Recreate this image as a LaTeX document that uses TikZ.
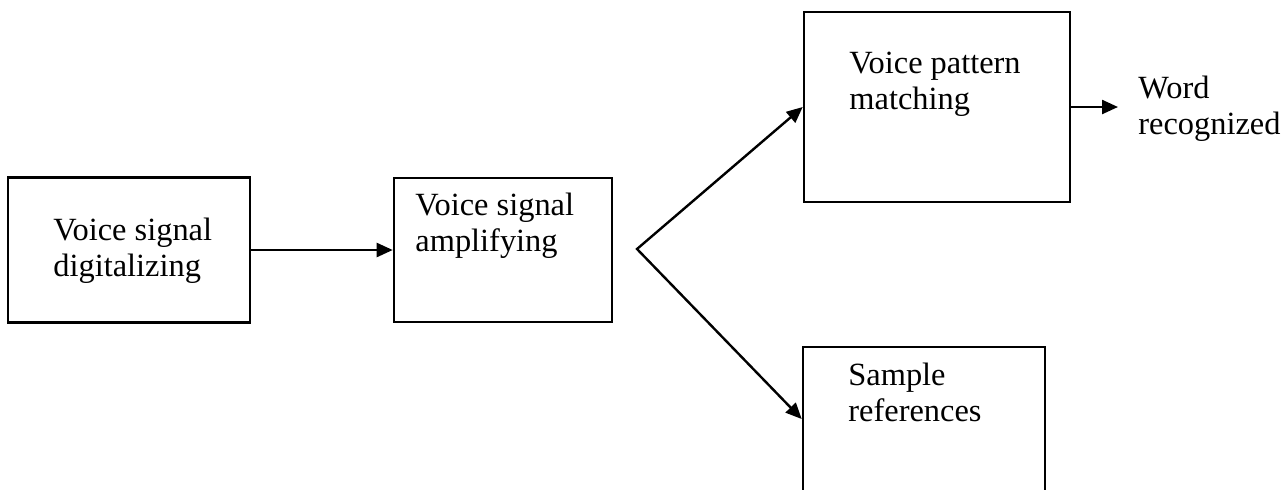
\documentclass[tikz,border=0pt]{standalone}
\usepackage{fontspec}
\setmainfont{Liberation Serif}
\usetikzlibrary{arrows.meta}

\begin{document}
\begin{tikzpicture}[
    x=0.5pt, y=-0.5pt,
    box/.style={rectangle, draw, line width=1.3pt, inner sep=0pt},
    txt/.style={anchor=north west, align=left, inner sep=0pt, font=\fontsize{16.2}{18}\selectfont},
    tip/.style={Triangle[length=8pt,width=7pt]},
    arrow/.style={-{Triangle[length=8pt,width=7pt]}, line width=1.2pt}
]
    \useasboundingbox (0,0) rectangle (1283,489);

    \node[box, minimum width=121pt, minimum height=72.5pt] (digit) at (129,250) {};
    \node[box, minimum width=109pt, minimum height=72pt] (amp) at (503,250) {};
    \node[box, minimum width=133pt, minimum height=95pt] (match) at (937,107) {};
    \node[box, minimum width=121pt, minimum height=72pt] (sample) at (924,419) {};
    \coordinate (fork) at (637,249);

    \node[txt] (digittxt) at (53,218) {Voice signal\\digitalizing};
    \node[txt] (amptxt) at (415,193) {Voice signal\\amplifying};
    \node[txt] (matchtxt) at (849,52) {Voice pattern\\matching};
    \node[txt] (sampletxt) at (848,363) {Sample\\references};
    \node[txt, inner xsep=10pt] (word) at (1118,76) {Word\\recognized};

    \draw[arrow] (digit) -- (amp);
    \draw[arrow, {Triangle[length=8pt,width=7pt]}-{Triangle[length=8pt,width=7pt]}] (match.west) -- (fork) -- (sample.west);
    \draw[arrow] (match.east) -- (match.east -| word.west);
\end{tikzpicture}
\end{document}
